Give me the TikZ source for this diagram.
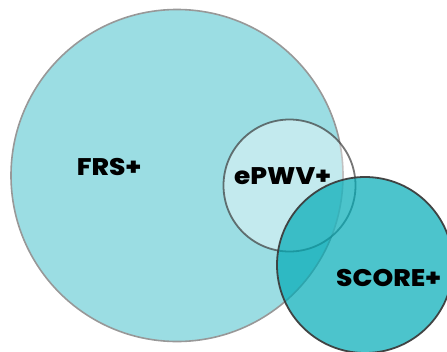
\documentclass[tikz,border=0pt]{standalone}
\usepackage{fontspec}
\setmainfont{Poppins}[BoldFont={* ExtraBold},BoldFeatures={FakeStretch=1.1}]
\begin{document}
\begin{tikzpicture}[x=1pt,y=-1pt,
  ring/.style={circle,inner sep=0pt,outer sep=0pt},
  lbl/.style={font=\bfseries\fontsize{24}{24}\selectfont,text=black,inner sep=0pt}]
\definecolor{frsfill}{RGB}{155,221,227}
\definecolor{frsline}{RGB}{152,152,152}
\definecolor{scorefill}{RGB}{0,171,182}
\definecolor{darkline}{RGB}{60,60,60}
\useasboundingbox (0,0) rectangle (447,351);
\begin{scope}
\clip (0,0) rectangle (447,351);
\node[ring,minimum size=332pt,fill=frsfill,draw=frsline,line width=1.6pt] (frs) at (177,175.5) {};
\node[ring,minimum size=132pt,fill=white,fill opacity=0.4,draw=darkline,draw opacity=0.7,line width=1.8pt] (epwv) at (289.5,185.5) {};
\node[ring,minimum size=176pt,fill=scorefill,fill opacity=0.7,draw=darkline,draw opacity=0.95,line width=1.8pt] (score) at (365,265) {};
\end{scope}
\node[lbl] (tfrs) at (109,167) {FRS+};
\node[lbl] (tepwv) at (282.5,176) {ePWV+};
\node[lbl] (tscore) at (388.5,278) {SCORE+};
\end{tikzpicture}
\end{document}
